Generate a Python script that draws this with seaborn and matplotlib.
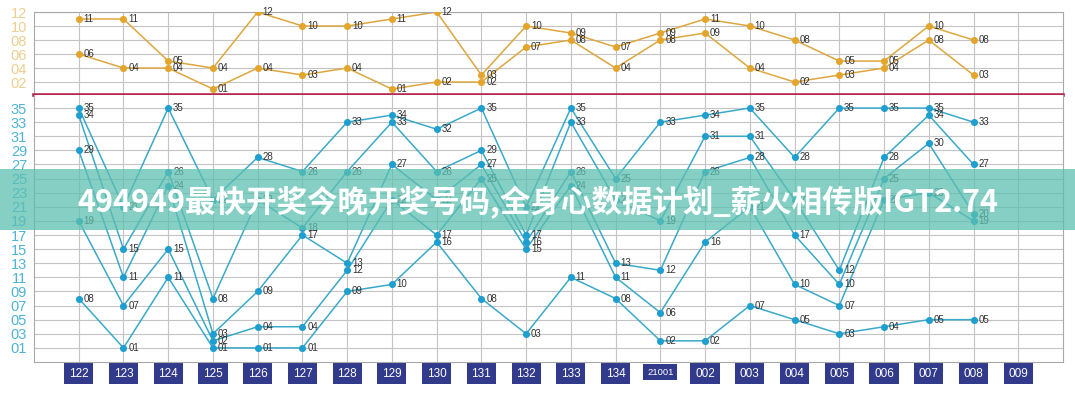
import numpy as np
import pandas as pd
import matplotlib
matplotlib.use('Agg')
import matplotlib.pyplot as plt
import seaborn as sns
from matplotlib.patches import Rectangle

issues = ['122', '123', '124', '125', '126', '127', '128', '129', '130', '131', '132',
          '133', '134', '21001', '002', '003', '004', '005', '006', '007', '008', '009']

# front area numbers (sorted small -> large per draw), last issue not drawn yet
front1 = [8, 1, 11, 1, 1, 1, 9, 10, 16, 8, 3, 11, 8, 2, 2, 7, 5, 3, 4, 5, 5]
front2 = [19, 7, 15, 2, 4, 4, 12, 22, 17, 25, 15, 24, 11, 6, 16, 21, 10, 7, 22, 23, 19]
front3 = [29, 11, 24, 3, 9, 17, 13, 27, 22, 27, 16, 26, 13, 12, 26, 28, 17, 10, 25, 30, 20]
front4 = [34, 15, 26, 8, 22, 18, 26, 33, 26, 29, 17, 33, 22, 19, 31, 31, 22, 12, 28, 34, 27]
front5 = [35, 21, 35, 22, 28, 26, 33, 34, 32, 35, 21, 35, 25, 33, 34, 35, 28, 35, 35, 35, 33]

# back area numbers
back1 = [6, 4, 4, 1, 4, 3, 4, 1, 2, 2, 7, 8, 4, 8, 9, 4, 2, 3, 4, 8, 3]
back2 = [11, 11, 5, 4, 12, 10, 10, 11, 12, 3, 10, 9, 7, 9, 11, 10, 8, 5, 5, 10, 8]

banner = '494949最快开奖今晚开奖号码,全身心数据计划_薪火相传版IGT2.74'

sns.set_theme(style='white')
plt.rcParams['font.family'] = ['Liberation Sans', 'DejaVu Sans']

W, H = 1075, 400
fig = plt.figure(figsize=(W / 100, H / 100), dpi=100)

def px_axes(left, top, right, bottom):
    return fig.add_axes([left / W, (H - bottom) / H, (right - left) / W, (bottom - top) / H])

ax_top = px_axes(34, 12, 1063, 95)
ax_bot = px_axes(34, 95, 1063, 362)

grid_col = '#c4c4c4'

def long_df(series):
    rows = []
    for k, vals in enumerate(series):
        for i, v in enumerate(vals):
            rows.append({'x': i, 'value': v, 'line': k})
    return pd.DataFrame(rows)

def draw_panel(ax, series, line_col, dot_col):
    df = long_df(series)
    sns.lineplot(data=df, x='x', y='value', hue='line', palette=[line_col] * len(series),
                 estimator=None, sort=False, legend=False, linewidth=1.1, ax=ax)
    sns.scatterplot(data=df, x='x', y='value', color=dot_col, s=26, linewidth=0,
                    legend=False, ax=ax, zorder=3)
    for _, r in df.iterrows():
        ax.annotate('%02d' % r['value'], (r['x'], r['value']), xytext=(3.5, 0),
                    textcoords='offset points', va='center', ha='left',
                    fontsize=7, color='#333333', zorder=4)

draw_panel(ax_top, [back1, back2], '#dca73e', '#e3a52c')
draw_panel(ax_bot, [front1, front2, front3, front4, front5], '#3aa9c9', '#1f9fcf')

for ax in (ax_top, ax_bot):
    ax.set_xlim(-1, 22)
    ax.set_xticks(range(len(issues)))
    ax.grid(True, color=grid_col, linewidth=0.8)
    ax.set_axisbelow(True)
    ax.set_xlabel('')
    ax.set_ylabel('')
    ax.tick_params(length=0)
    for s in ax.spines.values():
        s.set_color('#a8a8a8')
        s.set_linewidth(0.8)

ax_top.set_ylim(0.15, 12)
ax_top.set_yticks(range(2, 13, 2))
ax_top.set_yticklabels(['%02d' % v for v in range(2, 13, 2)], color='#ebcf8f', fontsize=10.5)
ax_top.set_xticklabels([])
ax_top.spines['bottom'].set_color('#b3294f')
ax_top.spines['bottom'].set_linewidth(2.6)
ax_top.spines['bottom'].set_zorder(5)

ax_bot.set_ylim(-1, 36.85)
ax_bot.set_yticks(range(1, 36, 2))
ax_bot.set_yticklabels(['%02d' % v for v in range(1, 36, 2)], color='#4fb4d8', fontsize=10.5)
ax_bot.spines['top'].set_visible(False)
ax_bot.set_xticklabels(issues, color='white', fontsize=8.5)
ax_bot.tick_params(axis='x', pad=4)
for lab in ax_bot.get_xticklabels():
    lab.set_bbox(dict(boxstyle='square,pad=0.4', fc='#323a8c', ec='none'))
    if lab.get_text() == '21001':
        lab.set_fontsize(6.8)

for ax in (ax_top, ax_bot):
    ax.tick_params(axis='y', pad=5)

# overlay banner
fig.patches.append(Rectangle((0, (H - 230) / H), 1, 61 / H, transform=fig.transFigure,
                             facecolor='#5dbfb0', alpha=0.75, edgecolor='none', zorder=10))
fig.text(0.5, (H - 203) / H, banner, ha='center', va='center', color='white',
         fontsize=22, fontweight='bold', family=['Noto Sans CJK SC', 'DejaVu Sans'], zorder=11)

fig.savefig('out.png', dpi=100)
